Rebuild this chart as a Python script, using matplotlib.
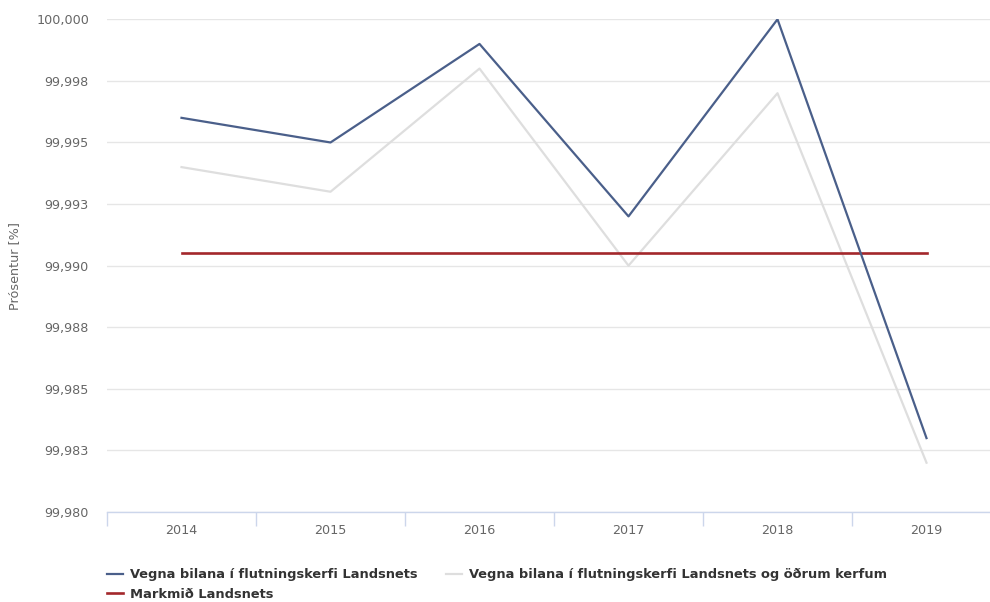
import matplotlib
matplotlib.use("Agg")
import matplotlib.pyplot as plt
from matplotlib.lines import Line2D

plt.rcParams['font.family'] = ['DejaVu Sans']

years = ["2014", "2015", "2016", "2017", "2018", "2019"]
flutningskerfi = [99.996, 99.995, 99.999, 99.992, 100.000, 99.983]
onnur_kerfi = [99.994, 99.993, 99.998, 99.990, 99.997, 99.982]
markmid = [99.9905] * 6
y_ticks = [99.980, 99.9825, 99.985, 99.9875, 99.990, 99.9925, 99.995, 99.9975, 100.000]
y_tick_labels = ["99,980", "99,983", "99,985", "99,988", "99,990", "99,993", "99,995", "99,998", "100,000"]
series_names = ["Vegna bilana í flutningskerfi Landsnets",
                "Vegna bilana í flutningskerfi Landsnets og öðrum kerfum",
                "Markmið Landsnets"]

W, H = 990, 602
fig = plt.figure(figsize=(W / 100, H / 100), dpi=100)
ax_w = 883
ax = fig.add_axes([107 / W, 90 / H, ax_w / W, 492.7 / H])

x = list(range(len(years)))
c_blue, c_grey, c_red = "#4a5f8a", "#dedede", "#a3272b"
ax.plot(x, onnur_kerfi, color=c_grey, lw=1.6, zorder=3)
ax.plot(x, flutningskerfi, color=c_blue, lw=1.6, zorder=4)
ax.plot(x, markmid, color=c_red, lw=1.9, zorder=3)

ax.set_yticks(y_ticks)
ax.set_yticklabels(y_tick_labels)
ax.set_xticks(x)
ax.set_xticklabels(years)
ax.set_xticks([i - 0.5 for i in range(len(years) + 1)], minor=True)
ax.set_ylim(99.980, 100.000)
ax.set_xlim(-0.5, 5.5 - 11 / 149)

ax.grid(axis='y', color="#e6e6e6", lw=1)
ax.set_axisbelow(True)
for s in ['top', 'right', 'left']:
    ax.spines[s].set_visible(False)
ax.spines['bottom'].set_color("#ccd6eb")
ax.spines['bottom'].set_linewidth(1)

ax.tick_params(axis='y', length=0, pad=13, labelsize=9.2, labelcolor="#666666")
ax.tick_params(axis='x', which='major', length=0, pad=8.5, labelsize=9.2, labelcolor="#666666")
ax.tick_params(axis='x', which='minor', length=10, width=1, color="#ccd6eb")

ax.set_ylabel("Prósentur [%]", color="#666666", fontsize=9.2)
ax.yaxis.set_label_coords((21 - 107) / ax_w, 0.5)

handles = [Line2D([], [], color=c_blue, lw=1.6),
           Line2D([], [], color=c_red, lw=1.9),
           Line2D([], [], color=c_grey, lw=1.6)]
labels = [series_names[0], series_names[2], series_names[1]]
leg = fig.legend(handles, labels, ncol=2, loc='upper left',
                 bbox_to_anchor=(102 / W, 1 - 563 / H), frameon=False,
                 handlelength=1.22, handletextpad=0.55, columnspacing=2.2,
                 labelspacing=0.52, prop={'weight': 'bold', 'size': 9.33},
                 borderaxespad=0)
for t in leg.get_texts():
    t.set_color("#333333")

fig.savefig("out.png", dpi=100)
